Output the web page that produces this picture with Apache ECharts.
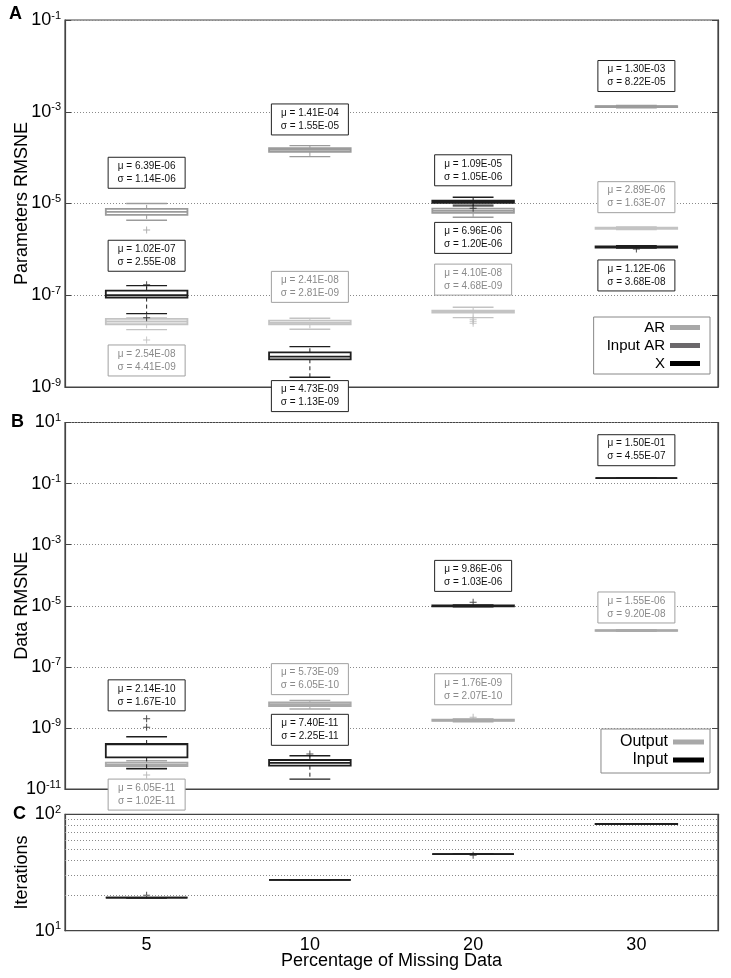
<!DOCTYPE html>
<html>
<head>
<meta charset="utf-8">
<script src="https://cdn.jsdelivr.net/npm/echarts@6/dist/echarts.min.js"></script>
<style>
html, body { margin: 0; padding: 0; background: #fff; }
#main { width: 731px; height: 978px; }
</style>
</head>
<body>
<div id="main"></div>
<script>
var categories = ['5', '10', '20', '30'];

// Panel A  -- [min, q1, median, q3, max] per category
var arBoxes = [
    [1.78e-8, 2.33e-8, 2.68e-8, 3.04e-8, 3.2e-8],
    [1.81e-8, 2.33e-8, 2.5e-8, 2.79e-8, 3.15e-8],
    [3.25e-8, 4.17e-8, 4.4e-8, 4.61e-8, 5.47e-8],
    [2.7e-6, 2.8e-6, 2.9e-6, 2.98e-6, 3.1e-6]
];
var arOutliers = [[1.06e-8], [], [3.0e-8, 2.7e-8, 2.45e-8], []];
var arMean = [2.54e-8, 2.41e-8, 4.10e-8, 2.89e-6];
var arSd = [4.41e-9, 2.81e-9, 4.68e-9, 1.63e-7];

var inputArBoxes = [
    [4.32e-6, 5.64e-6, 6.6e-6, 7.6e-6, 1.0e-5],
    [1.05e-4, 1.33e-4, 1.47e-4, 1.61e-4, 1.83e-4],
    [5.0e-6, 6.24e-6, 6.9e-6, 7.74e-6, 9.6e-6],
    [1.22e-3, 1.27e-3, 1.30e-3, 1.33e-3, 1.38e-3]
];
var inputArOutliers = [[2.65e-6], [], [], []];
var inputArMean = [6.39e-6, 1.41e-4, 6.96e-6, 1.30e-3];
var inputArSd = [1.14e-6, 1.55e-5, 1.20e-6, 8.22e-5];

var xBoxes = [
    [3.97e-8, 8.9e-8, 1.0e-7, 1.26e-7, 1.62e-7],
    [1.63e-9, 4.02e-9, 4.6e-9, 5.71e-9, 7.57e-9],
    [8.87e-6, 1.03e-5, 1.09e-5, 1.15e-5, 1.37e-5],
    [1.07e-6, 1.1e-6, 1.13e-6, 1.16e-6, 1.2e-6]
];
var xOutliers = [[1.7e-7, 3.25e-8], [], [7.9e-6], [1.02e-6]];
var xMean = [1.02e-7, 4.73e-9, 1.09e-5, 1.12e-6];
var xSd = [2.55e-8, 1.13e-9, 1.05e-6, 3.68e-8];

// Panel B
var outputBoxes = [
    [4.8e-11, 5.66e-11, 6.3e-11, 7.26e-11, 8.4e-11],
    [4.16e-9, 5.21e-9, 6.0e-9, 6.89e-9, 8.0e-9],
    [1.6e-9, 1.7e-9, 1.78e-9, 1.85e-9, 1.95e-9],
    [1.45e-6, 1.5e-6, 1.55e-6, 1.6e-6, 1.65e-6]
];
var outputOutliers = [[2.87e-11], [], [2.25e-9], []];
var outputMean = [6.05e-11, 5.73e-9, 1.76e-9, 1.55e-6];
var outputSd = [1.02e-11, 6.05e-10, 2.07e-10, 9.20e-8];

var inputBoxes = [
    [4.6e-11, 1.09e-10, 2.9e-10, 2.97e-10, 5.15e-10],
    [2.1e-11, 5.8e-11, 7.2e-11, 8.9e-11, 1.23e-10],
    [9.2e-6, 9.6e-6, 9.9e-6, 1.02e-5, 1.06e-5],
    [0.15, 0.15, 0.15, 0.15, 0.15]
];
var inputOutliers = [[1.05e-9, 2.0e-9], [1.39e-10], [1.3e-5], []];
var inputMean = [2.14e-10, 7.40e-11, 9.86e-6, 1.50e-1];
var inputSd = [1.67e-10, 2.25e-11, 1.03e-6, 4.55e-7];

// Panel C
var iterBoxes = [
    [19.2, 19.2, 19.2, 19.2, 19.2],
    [27.3, 27.3, 27.3, 27.3, 27.3],
    [45.5, 45.5, 45.5, 45.5, 45.5],
    [82, 82.3, 82.5, 82.7, 83]
];
var iterOutliers = [[20.2], [], [44.5], []];
var iterGrid = [20, 30, 40, 50, 60, 70, 80, 90];

// where each mu/sigma note sits, in px from its median
var noteShift = {
    ar: [39, -36, -32, -31],
    inputAr: [-39, -30.5, 27, -30.5],
    x: [-39.5, 39.5, -31.5, 28.5],
    output: [30, -25, -31, -23],
    input: [-49, -33, -30, -28]
};

var FONT = '"Liberation Sans", Arial, sans-serif';
var AXIS = '#444';
var plus = 'path://M4.3,0H5.7V4.3H10V5.7H5.7V10H4.3V5.7H0V4.3H4.3Z';

function fmt(v) {
    var p = v.toExponential(2).split('e');
    var e = parseInt(p[1], 10);
    var a = Math.abs(e);
    return p[0] + 'E' + (e < 0 ? '-' : '+') + (a < 10 ? '0' : '') + a;
}

function boxRenderer(color, lw) {
    return function (params, api) {
        var i = api.value(0);
        var lo = api.coord([i, api.value(1)]);
        var q1 = api.coord([i, api.value(2)]);
        var md = api.coord([i, api.value(3)]);
        var q3 = api.coord([i, api.value(4)]);
        var hi = api.coord([i, api.value(5)]);
        var band = api.coord([1, api.value(3)])[0] - api.coord([0, api.value(3)])[0];
        var w = band * 0.5, cx = md[0];
        var dash = { stroke: color, lineWidth: 1, lineDash: [4, 3] };
        var solid = { stroke: color, lineWidth: lw };
        var cap = { stroke: color, lineWidth: 1.4 };
        return {
            type: 'group',
            children: [
                { type: 'line', shape: { x1: cx, y1: q3[1], x2: cx, y2: hi[1] }, style: dash },
                { type: 'line', shape: { x1: cx, y1: q1[1], x2: cx, y2: lo[1] }, style: dash },
                { type: 'line', shape: { x1: cx - w / 4, y1: hi[1], x2: cx + w / 4, y2: hi[1] }, style: cap },
                { type: 'line', shape: { x1: cx - w / 4, y1: lo[1], x2: cx + w / 4, y2: lo[1] }, style: cap },
                { type: 'rect', shape: { x: cx - w / 2, y: q3[1], width: w, height: q1[1] - q3[1] },
                  style: { fill: 'none', stroke: color, lineWidth: lw } },
                { type: 'line', shape: { x1: cx - w / 2, y1: md[1], x2: cx + w / 2, y2: md[1] }, style: solid }
            ]
        };
    };
}

function noteRenderer(means, sds, shifts, ink, edge) {
    return function (params, api) {
        var i = params.dataIndex;
        var p = api.coord([api.value(0), api.value(1)]);
        var cy = p[1] + shifts[i];
        return {
            type: 'group',
            children: [
                { type: 'rect', shape: { x: p[0] - 38.5, y: cy - 15.5, width: 77, height: 31 },
                  style: { fill: '#fff', stroke: edge, lineWidth: 1 } },
                { type: 'text', style: {
                    text: 'μ = ' + fmt(means[i]) + '\nσ = ' + fmt(sds[i]),
                    x: p[0], y: cy, align: 'center', verticalAlign: 'middle',
                    fontSize: 10, lineHeight: 13, fontFamily: FONT, fill: ink } }
            ]
        };
    };
}

function boxSeries(name, boxes, yIdx, color, lw) {
    return {
        type: 'custom', name: name,
        xAxisIndex: yIdx / 2, yAxisIndex: yIdx,
        itemStyle: { color: color },
        encode: { x: 0, y: [1, 2, 3, 4, 5] },
        renderItem: boxRenderer(color, lw),
        data: boxes.map(function (b, i) { return [i].concat(b); }),
        z: 3
    };
}

function outlierSeries(name, outs, yIdx, color) {
    var pts = [];
    outs.forEach(function (list, i) {
        list.forEach(function (v) { pts.push([i, v]); });
    });
    return {
        type: 'scatter', name: name,
        xAxisIndex: yIdx / 2, yAxisIndex: yIdx,
        symbol: plus, symbolSize: 7,
        itemStyle: { color: color },
        data: pts, z: 4
    };
}

function noteSeries(boxes, yIdx, means, sds, shifts, ink, edge) {
    return {
        type: 'custom',
        xAxisIndex: yIdx / 2, yAxisIndex: yIdx,
        renderItem: noteRenderer(means, sds, shifts, ink, edge),
        encode: { x: 0, y: 1 },
        data: boxes.map(function (b, i) { return [i, b[2]]; }),
        clip: false,
        z: 10
    };
}

var powLabel = {
    margin: 4,
    formatter: function (v) {
        return '{b|10}{s|' + Math.round(Math.log10(v)) + '}';
    },
    rich: {
        b: { fontSize: 18, fontFamily: FONT, color: '#000', lineHeight: 20 },
        s: { fontSize: 11, fontFamily: FONT, color: '#000', verticalAlign: 'top', lineHeight: 12 }
    }
};

function yPair(grid, min, max, interval, name, withGrid) {
    var left = {
        type: 'log', gridIndex: grid, min: min, max: max, interval: interval,
        name: name, nameLocation: 'middle', nameGap: 34, nameMoveOverlap: false,
        nameTextStyle: { fontSize: 18, fontFamily: FONT, color: '#000' },
        axisLine: { show: true, lineStyle: { color: AXIS, width: 1.2 } },
        axisTick: { show: true, inside: true, length: 6, lineStyle: { color: AXIS } },
        axisLabel: powLabel,
        splitLine: { show: withGrid, lineStyle: { color: '#8a8a8a', type: [1, 2], width: 1 } }
    };
    var right = {
        type: 'log', gridIndex: grid, min: min, max: max, interval: interval, position: 'right',
        axisLine: { show: true, lineStyle: { color: AXIS, width: 1.2 } },
        axisTick: { show: true, inside: true, length: 6, lineStyle: { color: AXIS } },
        axisLabel: { show: false },
        splitLine: { show: false }
    };
    return [left, right];
}

function xAx(grid, labels) {
    return {
        type: 'category', gridIndex: grid, data: categories,
        axisLine: { show: true, lineStyle: { color: AXIS, width: 1.2 } },
        axisTick: { show: false },
        axisLabel: { show: labels, fontSize: 18, fontWeight: 'normal', fontFamily: FONT, color: '#000', margin: 5 },
        name: labels ? 'Percentage of Missing Data' : '',
        nameLocation: 'middle', nameGap: 21, nameMoveOverlap: false,
        nameTextStyle: { fontSize: 18, fontWeight: 'normal', fontFamily: FONT, color: '#000' }
    };
}

function gridAt(top, height) {
    return {
        left: 65, width: 653, top: top, height: height,
        containLabel: false, outerBoundsMode: 'none',
        show: true, borderColor: AXIS, borderWidth: 1.2
    };
}

var chart = echarts.init(document.getElementById('main'));

var cGridSeries = outlierSeries('Iterations', iterOutliers, 4, '#1e1e1e');
cGridSeries.markLine = {
    silent: true, symbol: 'none', label: { show: false },
    lineStyle: { color: '#8a8a8a', type: [1, 2], width: 1 },
    data: iterGrid.map(function (v) { return { yAxis: v }; })
};

chart.setOption({
    animation: false,
    backgroundColor: '#fff',
    textStyle: { fontFamily: FONT },
    grid: [gridAt(20, 367), gridAt(422.5, 366.5), gridAt(814.3, 116.4)],
    xAxis: [xAx(0, false), xAx(1, false), xAx(2, true)],
    yAxis: [].concat(
        yPair(0, 1e-9, 1e-1, 2, 'Parameters RMSNE', true),
        yPair(1, 1e-11, 1e1, 2, 'Data RMSNE', true),
        yPair(2, 10, 100, 1, 'Iterations', false)
    ),
    legend: [
        {
            right: 21, top: 317, orient: 'vertical', align: 'right',
            itemWidth: 30, itemHeight: 5, itemGap: 3,
            padding: [3, 10, 3, 13],
            borderColor: '#888', borderWidth: 1,
            textStyle: { fontSize: 15, fontFamily: FONT, color: '#000' },
            selectedMode: false,
            data: [
                { name: 'AR', icon: 'rect', itemStyle: { color: '#a8a8a8' } },
                { name: 'Input AR', icon: 'rect', itemStyle: { color: '#6b686b' } },
                { name: 'X', icon: 'rect', itemStyle: { color: '#000' } }
            ]
        },
        {
            right: 21, top: 729, orient: 'vertical', align: 'right',
            itemWidth: 31, itemHeight: 5, itemGap: 2,
            padding: [5, 6, 5, 19],
            borderColor: '#888', borderWidth: 1,
            textStyle: { fontSize: 16, fontFamily: FONT, color: '#000' },
            selectedMode: false,
            data: [
                { name: 'Output', icon: 'rect', itemStyle: { color: '#a8a8a8' } },
                { name: 'Input', icon: 'rect', itemStyle: { color: '#000' } }
            ]
        }
    ],
    graphic: [
        { type: 'text', left: 9, top: 5, style: { text: 'A', fontSize: 18, fontWeight: 'bold', fontFamily: FONT, fill: '#000' } },
        { type: 'text', left: 11, top: 413, style: { text: 'B', fontSize: 18, fontWeight: 'bold', fontFamily: FONT, fill: '#000' } },
        { type: 'text', left: 13, top: 805, style: { text: 'C', fontSize: 18, fontWeight: 'bold', fontFamily: FONT, fill: '#000' } }
    ],
    series: [
        boxSeries('AR', arBoxes, 0, '#c3c3c3', 1.8),
        boxSeries('Input AR', inputArBoxes, 0, '#9b9b9b', 1.8),
        boxSeries('X', xBoxes, 0, '#1e1e1e', 1.8),
        outlierSeries('AR', arOutliers, 0, '#b8b8b8'),
        outlierSeries('Input AR', inputArOutliers, 0, '#9b9b9b'),
        outlierSeries('X', xOutliers, 0, '#1e1e1e'),
        noteSeries(arBoxes, 0, arMean, arSd, noteShift.ar, '#8a8a8a', '#a0a0a0'),
        noteSeries(inputArBoxes, 0, inputArMean, inputArSd, noteShift.inputAr, '#111', '#222'),
        noteSeries(xBoxes, 0, xMean, xSd, noteShift.x, '#111', '#222'),

        boxSeries('Output', outputBoxes, 2, '#a9a9a9', 1.8),
        boxSeries('Input', inputBoxes, 2, '#1e1e1e', 1.8),
        outlierSeries('Output', outputOutliers, 2, '#a9a9a9'),
        outlierSeries('Input', inputOutliers, 2, '#1e1e1e'),
        noteSeries(outputBoxes, 2, outputMean, outputSd, noteShift.output, '#8a8a8a', '#a0a0a0'),
        noteSeries(inputBoxes, 2, inputMean, inputSd, noteShift.input, '#111', '#222'),

        boxSeries('Iterations', iterBoxes, 4, '#1e1e1e', 1.8),
        cGridSeries
    ]
});

window.onresize = chart.resize;
</script>
</body>
</html>
